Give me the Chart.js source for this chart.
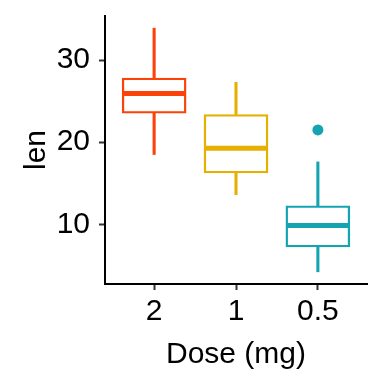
<!DOCTYPE html>
<html>
<head>
<meta charset="utf-8">
<script src="https://cdn.jsdelivr.net/npm/chart.js@4.4.0/dist/chart.umd.min.js"></script>
<style>
html,body{margin:0;padding:0;background:#fff;}
#c{display:block;}
</style>
</head>
<body>
<canvas id="c" width="384" height="384"></canvas>
<script>
// Data (ToothGrowth len by dose)
const doses = ['2', '1', '0.5'];
const positions = [1, 2, 3];
const q1 = [23.525, 16.25, 7.225];
const medians = [25.95, 19.25, 9.85];
const q3 = [27.825, 23.375, 12.25];
const whiskerLow = [18.5, 13.6, 4.2];
const whiskerHigh = [33.9, 27.3, 17.6];
const outlierDose = [3];
const outlierValue = [21.5];
const colors = ['#FC4109', '#E5B000', '#14A4B1'];
const yTicks = [10, 20, 30];
const yMin = 2.715, yMax = 35.385;

const FONT = 'Liberation Sans, Arial, Helvetica, sans-serif';

const datasets = [
  {
    type: 'bar', label: 'upper whisker', order: 4, grouped: false,
    data: positions.map((p, i) => ({x: p, y: [q3[i], whiskerHigh[i]]})),
    backgroundColor: colors, borderWidth: 0, barThickness: 2.4
  },
  {
    type: 'bar', label: 'lower whisker', order: 4, grouped: false,
    data: positions.map((p, i) => ({x: p, y: [whiskerLow[i], q1[i]]})),
    backgroundColor: colors, borderWidth: 0, barThickness: 2.4
  },
  {
    type: 'bar', label: 'box', order: 3, grouped: false,
    data: positions.map((p, i) => ({x: p, y: [q1[i], q3[i]]})),
    backgroundColor: '#ffffff', borderColor: colors, borderWidth: 2.4,
    borderSkipped: false, barThickness: 64
  },
  {
    type: 'line', label: 'median', order: 2, showLine: false,
    data: positions.map((p, i) => ({x: p, y: medians[i]})),
    pointStyle: 'line', pointRadius: 31, pointBorderWidth: 5,
    pointBorderColor: colors, pointBackgroundColor: colors, pointHoverRadius: 31
  },
  {
    type: 'scatter', label: 'outlier', order: 1,
    data: outlierDose.map((p, i) => ({x: p, y: outlierValue[i]})),
    pointRadius: 5.5, pointBackgroundColor: colors[2], pointBorderWidth: 0
  }
];

new Chart(document.getElementById('c'), {
  type: 'bar',
  data: {datasets},
  options: {
    responsive: false,
    animation: false,
    events: [],
    layout: {autoPadding: false, padding: {top: 16, right: 17, left: 0, bottom: 0}},
    plugins: {legend: {display: false}, tooltip: {enabled: false}},
    scales: {
      x: {
        type: 'linear', min: 0.4, max: 3.6, offset: false,
        afterBuildTicks: s => { s.ticks = positions.map(v => ({value: v})); },
        afterFit: s => { s.height = 100; s.paddingLeft = 0; s.paddingRight = 0; },
        ticks: {
          callback: (v) => doses[positions.indexOf(v)],
          color: '#000', font: {family: FONT, size: 30}, padding: 4, maxRotation: 0, autoSkip: false
        },
        grid: {offset: false, drawOnChartArea: false, drawTicks: true, tickLength: 6, tickColor: '#333', tickWidth: 2},
        border: {display: true, color: '#000', width: 2},
        title: {display: true, text: 'Dose (mg)', color: '#000', font: {family: FONT, size: 30}, padding: {top: 0, bottom: 11}}
      },
      y: {
        type: 'linear', min: yMin, max: yMax,
        afterBuildTicks: s => { s.ticks = yTicks.map(v => ({value: v})); },
        afterFit: s => { s.width = 105; s.paddingTop = 0; s.paddingBottom = 0; },
        ticks: {color: '#000', font: {family: FONT, size: 30}, padding: 9},
        grid: {drawOnChartArea: false, drawTicks: true, tickLength: 6, tickColor: '#333', tickWidth: 2},
        border: {display: true, color: '#000', width: 2},
        title: {display: true, text: 'len', color: '#000', font: {family: FONT, size: 30}, padding: {top: 19, bottom: 0}}
      }
    }
  }
});
</script>
</body>
</html>
